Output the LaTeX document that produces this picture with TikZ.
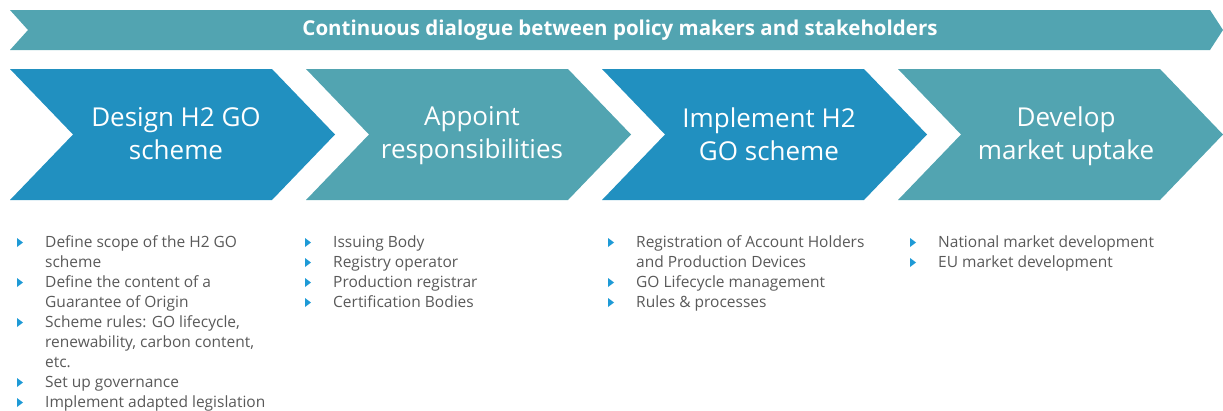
\documentclass[tikz,border=0pt]{standalone}
\usepackage{fontspec}
\setmainfont{Open Sans}
\usetikzlibrary{positioning}
\definecolor{chevblue}{HTML}{2190C0}
\definecolor{chevteal}{HTML}{52A4B1}
\definecolor{bulblue}{HTML}{1E9AD6}
\definecolor{itemgray}{HTML}{595959}

\tikzset{
  stage/.style={text=white, align=center, font=\fontsize{26}{33}\selectfont},
  item/.style={text=itemgray, align=left, anchor=north west, inner sep=0pt, font=\fontsize{15.5}{20}\selectfont},
  bul/.pic={\fill[bulblue] (0,-4.5) -- (6,0) -- (0,4.5) -- cycle;}
}

\begin{document}
\begin{tikzpicture}[x=1pt,y=-1pt]
    \useasboundingbox (0,0) rectangle (1223,410);

    % dialogue banner
    \fill[chevteal] (10,10) -- (1210,10) -- (1223,30) -- (1210,50) -- (10,50) -- (28,30) -- cycle;
    \node[text=white, font=\bfseries\fontsize{20.5}{24}\selectfont] (dialogue) at (620,30) {Continuous dialogue between policy makers and stakeholders};

    % the four stages
    \foreach \x/\c in {10/chevblue, 306/chevteal, 602/chevblue, 898/chevteal}
        \fill[\c] (\x,69) -- ++(262,0) -- ++(63,65.5) -- ++(-63,65.5) -- ++(-262,0) -- ++(63,-65.5) -- cycle;

    \node[stage] (design) at (176,134) {Design H2 GO\\scheme};
    \node[stage] (appoint) at (472,136) {Appoint\\responsibilities};
    \node[stage] (implement) at (769,134) {Implement H2\\GO scheme};
    \node[stage] (develop) at (1066,136) {Develop\\market uptake};

    % bullet items (first baseline 14pt below the top)
    \node[item] (d1) at (45,233) {\strut Define scope of the H2 GO\\scheme};
    \node[item] (d2) at (45,273) {\strut Define the content of a\\Guarantee of Origin};
    \node[item] (d3) at (45,313) {\strut Scheme rules: GO lifecycle,\\renewability, carbon content,\\etc.};
    \node[item] (d4) at (45,373) {\strut Set up governance};
    \node[item] (d5) at (45,393) {\strut Implement adapted legislation};

    \node[item] (a1) at (333,233) {\strut Issuing Body};
    \node[item] (a2) at (333,253) {\strut Registry operator};
    \node[item] (a3) at (333,273) {\strut Production registrar};
    \node[item] (a4) at (333,293) {\strut Certification Bodies};

    \node[item] (m1) at (636,233) {\strut Registration of Account Holders\\and Production Devices};
    \node[item] (m2) at (636,273) {\strut GO Lifecycle management};
    \node[item] (m3) at (636,293) {\strut Rules \& processes};

    \node[item] (u1) at (938,233) {\strut National market development};
    \node[item] (u2) at (938,253) {\strut EU market development};

    \foreach \n in {d1,d2,d3,d4,d5,a1,a2,a3,a4,m1,m2,m3,u1,u2}
        \pic at ([xshift=-28pt,yshift=-9.5pt]\n.north west) {bul};
\end{tikzpicture}
\end{document}
